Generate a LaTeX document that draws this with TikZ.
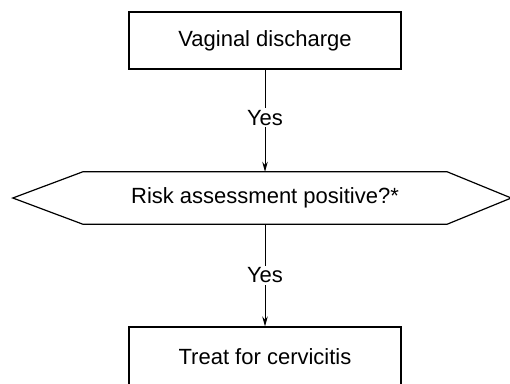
\documentclass[tikz,border=0pt]{standalone}
\usepackage{fontspec}
\setmainfont{Liberation Sans}
\usetikzlibrary{calc,arrows.meta}
\begin{document}
\begin{tikzpicture}[x=1pt,y=-1pt,
  every node/.style={font=\fontsize{22}{26}\selectfont},
  boxnode/.style={draw,line width=1.2pt,minimum width=272pt,minimum height=57pt,inner sep=0pt},
  flow/.style={line width=1pt,-{Stealth[length=10pt,width=5.5pt]}},
  lbl/.style={fill=white,inner sep=2pt}]
\clip (0,0) rectangle (510,383);
\fill[white] (0,0) rectangle (510,383);
\node[boxnode] (top) at (265,40.5) {Vaginal discharge};
\node[minimum width=364pt,minimum height=52pt,inner sep=0pt] (hex) at (265,198) {Risk assessment positive?*};
\coordinate (hl) at ($(hex.west)+(-70,0)$);
\coordinate (hr) at ($(hex.east)+(64,0)$);
\draw[line width=1.2pt,line join=miter] (hex.north west) -- (hex.north east) -- (hr) -- (hex.south east) -- (hex.south west) -- (hl) -- cycle;
\node[boxnode,minimum height=60pt,text depth=0pt] (bot) at (265,357) {Treat for cervicitis};
\draw[flow] (top.south) -- node[lbl,pos=0.47]{Yes} (hex.north);
\draw[flow] (hex.south) -- node[lbl]{Yes} (bot.north);
\end{tikzpicture}
\end{document}
